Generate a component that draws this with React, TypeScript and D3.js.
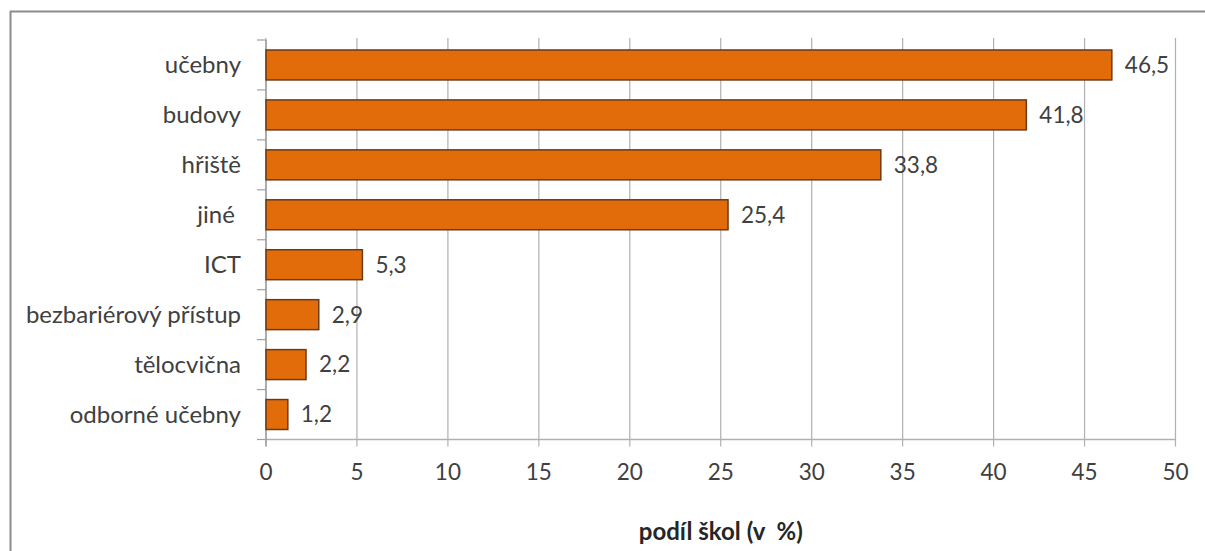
import React from "react";
import * as d3 from "d3";

const categories = ["učebny", "budovy", "hřiště", "jiné ", "ICT", "bezbariérový přístup", "tělocvična", "odborné učebny"];
const values = [46.5, 41.8, 33.8, 25.4, 5.3, 2.9, 2.2, 1.2];
const xTicks = [0, 5, 10, 15, 20, 25, 30, 35, 40, 45, 50];
const axisTitle = "podíl škol (v  %)";

const W = 1205;
const H = 551;
const FONT = "Lato, 'Open Sans', sans-serif";

export default function App() {
  const x = d3.scaleLinear().domain([0, 50]).range([266, 1175.5]);
  const y = d3.scaleBand<string>().domain(categories).range([40, 439.5]).paddingInner(0.4).paddingOuter(0.2);
  const yb = d3.scaleBand<string>().domain(categories).range([40, 439.5]);
  const fmt = (v: number) => v.toFixed(1).replace(".", ",");
  const x0 = x(0);
  const yBottom = 439.5;
  return (
    <svg width={W} height={H} style={{ position: "absolute", left: 0, top: 0, background: "#fff" }}>
      <rect x={0} y={0} width={W} height={H} fill="#fff" />
      {/* frame */}
      <line x1={10.5} y1={11} x2={10.5} y2={H} stroke="#8c8c8c" strokeWidth={2} />
      <line x1={10} y1={11.5} x2={W} y2={11.5} stroke="#8c8c8c" strokeWidth={2} />
      {/* gridlines */}
      {xTicks.map((t) => (
        <line key={"g" + t} x1={x(t)} x2={x(t)} y1={38} y2={yBottom + 7} stroke="#b0b0b0" strokeWidth={1.2} />
      ))}
      {/* bottom axis */}
      <line x1={x0} x2={x(50)} y1={yBottom} y2={yBottom} stroke="#b0b0b0" strokeWidth={1.5} />
      {/* left axis */}
      <line x1={x0} x2={x0} y1={40} y2={yBottom + 7} stroke="#a0a0a0" strokeWidth={1.5} />
      {categories.map((c, i) => (
        <line key={"t" + i} x1={x0 - 9} x2={x0} y1={yb(c)!} y2={yb(c)!} stroke="#a0a0a0" strokeWidth={1.2} />
      ))}
      <line x1={x0 - 9} x2={x0} y1={yBottom} y2={yBottom} stroke="#a0a0a0" strokeWidth={1.2} />
      {/* bars */}
      {categories.map((c, i) => (
        <rect
          key={"b" + i}
          x={x0}
          y={y(c)!}
          width={x(values[i]) - x0}
          height={y.bandwidth()}
          fill="#E36C0A"
          stroke="#6b3a16"
          strokeWidth={1.5}
        />
      ))}
      {/* value labels */}
      {categories.map((c, i) => (
        <text
          key={"v" + i}
          x={x(values[i]) + 13}
          y={y(c)! + y.bandwidth() / 2}
          dy="0.35em"
          fontFamily={FONT}
          fontSize={22.5}
          fill="#404040"
        >
          {fmt(values[i])}
        </text>
      ))}
      {/* category labels */}
      {categories.map((c, i) => (
        <text
          key={"c" + i}
          x={241}
          y={yb(c)! + yb.bandwidth() / 2}
          dy="0.35em"
          textAnchor="end"
          fontFamily={FONT}
          fontSize={24}
          fill="#404040"
          style={{ whiteSpace: "pre" }}
        >
          {c}
        </text>
      ))}
      {/* tick labels */}
      {xTicks.map((t) => (
        <text key={"l" + t} x={x(t)} y={472} dy="0.35em" textAnchor="middle" fontFamily={FONT} fontSize={22.5} fill="#404040">
          {t}
        </text>
      ))}
      <text x={(x(0) + x(50)) / 2} y={532} dy="0.35em" textAnchor="middle" fontFamily={FONT} fontSize={24} fontWeight="bold" fill="#262626" style={{ whiteSpace: "pre" }}>
        {axisTitle}
      </text>
    </svg>
  );
}
